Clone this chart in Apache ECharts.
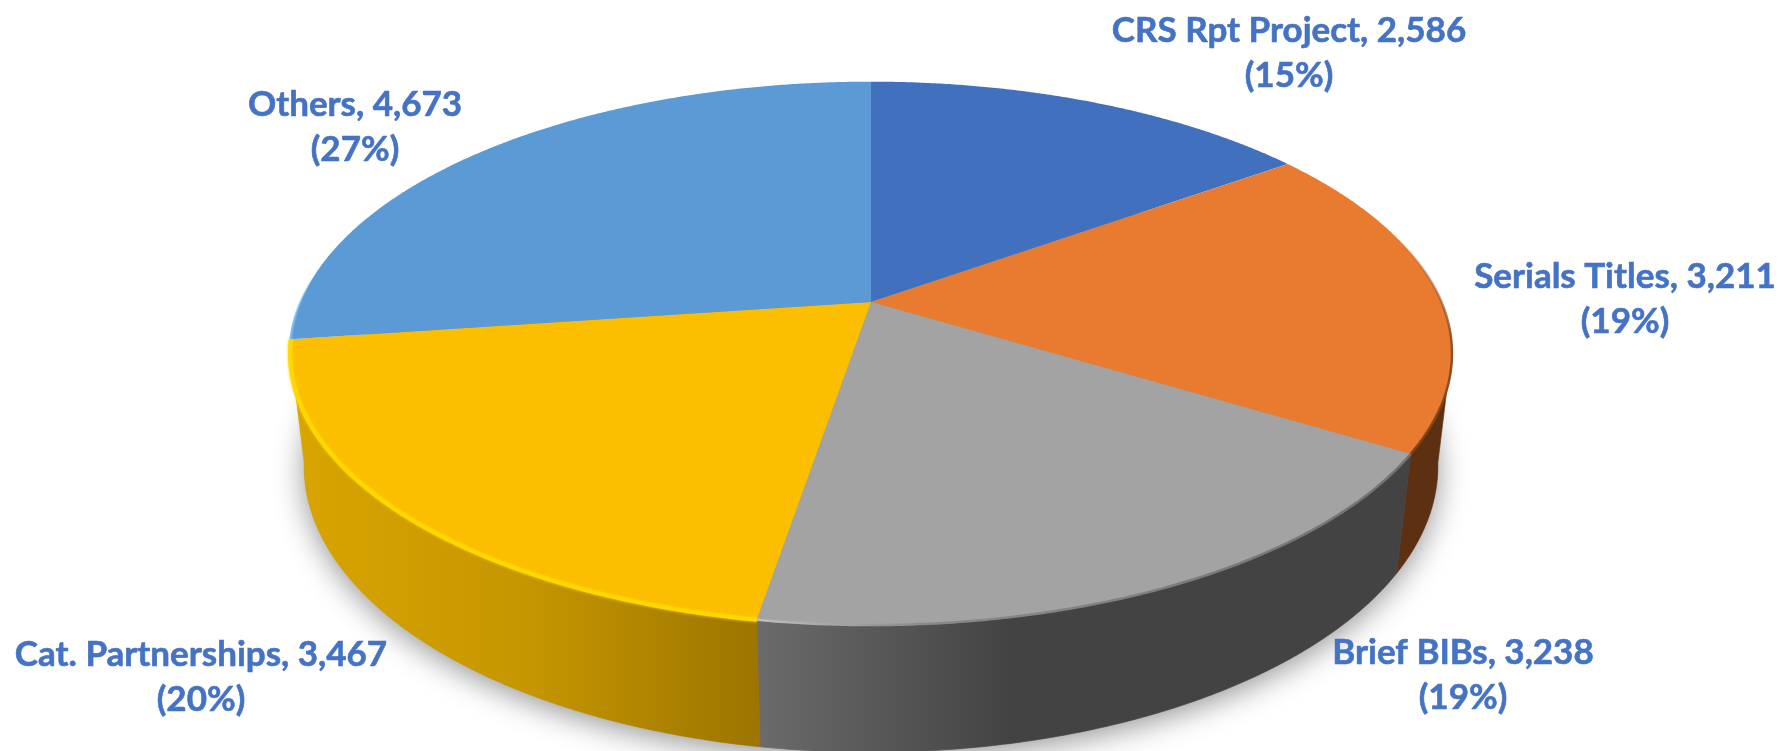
<!DOCTYPE html>
<html>
<head>
<meta charset="utf-8">
<title>Pie</title>
<script src="https://cdn.jsdelivr.net/npm/echarts@6/dist/echarts.min.js"></script>
<style>
  html, body { margin: 0; padding: 0; background: #fff; }
  #main { width: 1778px; height: 751px; }
</style>
</head>
<body>
<div id="main"></div>
<script>
const categories = ['CRS Rpt Project', 'Serials Titles', 'Brief BIBs', 'Cat. Partnerships', 'Others']
const values = [2586, 3211, 3238, 3467, 4673]

const topColors = ['#4170BE', '#E97B30', '#A3A3A3', '#FBBF00', '#5B9AD4']
// label centres, placed by hand like the original
const labelCenters = [[1289, 53], [1625, 299], [1463, 675], [201, 677], [355, 127]]

// projected disc: perspective keeps the near half bigger than the far half
const cx = 871, cy = 302
const R = 570.5, Ry = 262, persp = 0.189
const depth = 114, shrink = 0.024 // wall height and how much further away the bottom disc is
const wallFrom = 100, wallTo = 260 // visible part of the wall, degrees

const total = values.reduce((a, b) => a + b, 0)
const shares = []
let acc = 0
values.forEach(v => {
  shares.push([acc / total * 360, (acc + v) / total * 360])
  acc += v
})

function topPoint(deg) {
  const a = deg * Math.PI / 180
  const u = Math.sin(a), v = -Math.cos(a), w = 1 - persp * v
  return [cx + R * u / w, cy + Ry * v / w]
}
function bottomPoint(deg) {
  const a = deg * Math.PI / 180
  const u = Math.sin(a), v = -Math.cos(a), w = 1 - persp * v + shrink
  return [cx + R * u / w, cy + (Ry * v + depth) / w]
}
function arc(fn, from, to) {
  const pts = []
  const n = Math.max(2, Math.ceil(Math.abs(to - from) * 3))
  for (let i = 0; i <= n; i++) pts.push(fn(from + (to - from) * i / n))
  return pts
}
function hGrad(x1, x2, stops) {
  return new echarts.graphic.LinearGradient(x1, 0, x2, 0, stops, true)
}
function vGrad(y1, y2, stops) {
  return new echarts.graphic.LinearGradient(0, y1, 0, y2, stops, true)
}

const wallFills = [
  null,
  '#5E3012',
  hGrad(752, 1010, [{ offset: 0, color: '#6C6C6C' }, { offset: 1, color: '#434343' }]),
  hGrad(293, 762, [{ offset: 0, color: '#D8A500' }, { offset: 0.5, color: '#C69600' }, { offset: 1, color: '#9C7400' }]),
  null
]
const rimStrokes = [
  null,
  vGrad(240, 455, [{ offset: 0, color: 'rgba(140,75,30,0)' }, { offset: 0.45, color: 'rgba(140,75,30,0.9)' }, { offset: 1, color: 'rgba(125,68,26,1)' }]),
  hGrad(760, 1410, [{ offset: 0, color: '#BEBEBE' }, { offset: 0.25, color: '#8A8A8A' }, { offset: 1, color: '#727272' }]),
  '#FFD800',
  hGrad(290, 312, [{ offset: 0, color: 'rgba(111,182,242,1)' }, { offset: 1, color: 'rgba(111,182,242,0)' }])
]
const rimWidths = [0, 2.5, 2.5, 4, 2.5]

const option = {
  animation: false,
  backgroundColor: '#fff',
  series: [
    { // soft shadow under the bottom disc
      type: 'custom',
      coordinateSystem: 'none',
      silent: true,
      z: 1,
      data: [total],
      renderItem() {
        return {
          type: 'polygon',
          shape: { points: arc(bottomPoint, 0, 360) },
          style: { fill: '#999', shadowBlur: 30, shadowColor: 'rgba(0,0,0,0.42)', shadowOffsetX: 0, shadowOffsetY: 6 }
        }
      }
    },
    { // walls
      type: 'custom',
      coordinateSystem: 'none',
      silent: true,
      z: 2,
      data: values,
      renderItem(params) {
        const i = params.dataIndex
        const from = Math.max(shares[i][0], wallFrom)
        const to = Math.min(shares[i][1], wallTo)
        if (!wallFills[i] || to <= from) return null
        const pts = arc(topPoint, from, to).concat(arc(bottomPoint, to, from))
        return { type: 'polygon', shape: { points: pts }, style: { fill: wallFills[i], stroke: wallFills[i], lineWidth: 0.6 } }
      }
    },
    { // top faces
      type: 'custom',
      coordinateSystem: 'none',
      silent: true,
      z: 3,
      data: values,
      renderItem(params) {
        const i = params.dataIndex
        const pts = [[cx, cy]].concat(arc(topPoint, shares[i][0], shares[i][1]))
        return { type: 'polygon', shape: { points: pts }, style: { fill: topColors[i] } }
      }
    },
    { // bevel highlight along the rim
      type: 'custom',
      coordinateSystem: 'none',
      silent: true,
      z: 4,
      data: values,
      renderItem(params) {
        const i = params.dataIndex
        if (!rimStrokes[i]) return null
        return {
          type: 'polyline',
          shape: { points: arc(topPoint, shares[i][0], shares[i][1]) },
          style: {
            fill: 'none',
            stroke: rimStrokes[i],
            lineWidth: rimWidths[i],
            shadowBlur: i === 3 ? 3 : 0,
            shadowColor: '#FFD800'
          }
        }
      }
    },
    { // data labels
      type: 'custom',
      coordinateSystem: 'none',
      silent: true,
      z: 5,
      data: values,
      renderItem(params, api) {
        const i = params.dataIndex
        const v = api.value(0)
        const pct = Math.round(v / total * 100)
        return {
          type: 'text',
          style: {
            x: labelCenters[i][0],
            y: labelCenters[i][1],
            text: categories[i] + ', ' + v.toLocaleString('en-US') + '\n(' + pct + '%)',
            fill: '#4472C4',
            stroke: '#4472C4',
            lineWidth: 0.6,
            fontFamily: 'Lato',
            fontWeight: 700,
            fontSize: 35,
            lineHeight: 45,
            align: 'center',
            verticalAlign: 'middle'
          }
        }
      }
    }
  ]
}

const myChart = echarts.init(document.getElementById('main'), null, { renderer: 'canvas' })
myChart.setOption(option)
</script>
</body>
</html>
